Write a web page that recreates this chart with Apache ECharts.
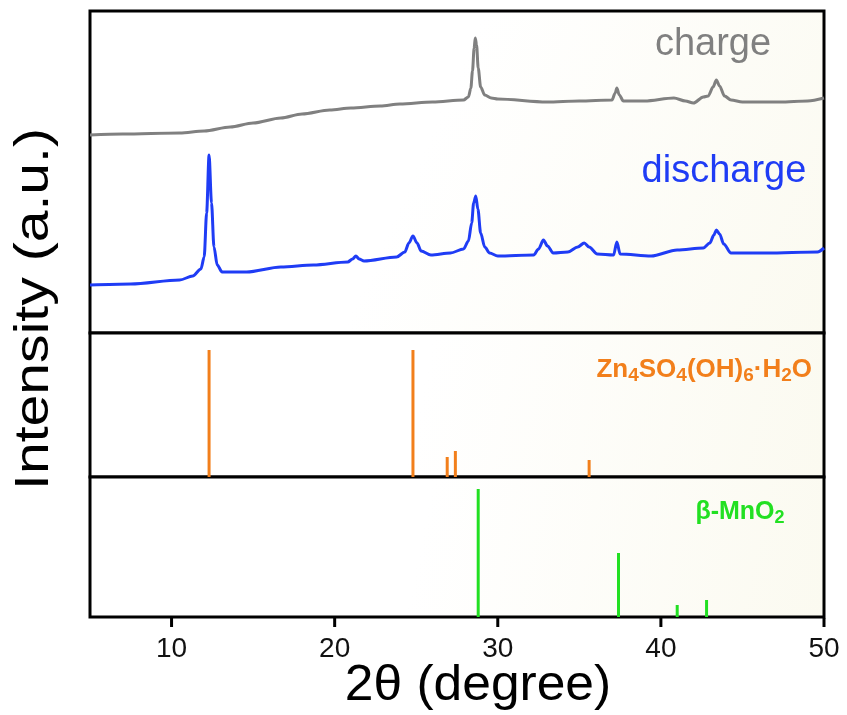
<!DOCTYPE html>
<html>
<head>
<meta charset="utf-8">
<script src="https://cdn.jsdelivr.net/npm/echarts@6/dist/echarts.min.js"></script>
<style>
  html, body { margin: 0; padding: 0; background: #fff; }
  #chart { width: 847px; height: 715px; }
</style>
</head>
<body>
<div id="chart"></div>
<script>
// x tick labels of the shared 2theta axis (axis runs 5..50)
var xMin = 5, xMax = 50;
var xTicks = [10, 20, 30, 40, 50];

// charge pattern [2theta, intensity]
var chargeData = [
  [5, 198], [7, 199], [10.5, 200], [12, 202], [13.6, 206], [15, 210], [16.7, 215],
  [18, 219], [19.7, 223], [21, 225], [22.8, 227], [24, 229], [26, 231], [27.9, 233],
  [28.2, 236], [28.35, 245], [28.45, 262], [28.55, 285], [28.62, 295], [28.7, 288],
  [28.8, 265], [28.95, 246], [29.2, 238], [29.6, 235], [30, 234], [33, 231], [35, 232],
  [37.0, 233], [37.2, 240], [37.3, 245], [37.45, 238], [37.7, 232], [39, 232],
  [40.8, 235], [41.5, 232], [42.0, 230], [42.6, 236], [42.9, 237], [43.2, 246],
  [43.4, 253], [43.6, 247], [43.9, 237], [44.3, 233], [45, 231], [47.3, 231], [49, 232], [50, 235]
];

// discharge pattern [2theta, intensity]
var dischargeData = [
  [5, 48], [7.5, 49], [10.5, 53], [11.3, 57], [11.8, 64], [12.0, 76], [12.15, 120], [12.3, 178],
  [12.45, 130], [12.6, 86], [12.8, 68], [13.1, 61], [14.6, 61], [16.7, 66], [18.7, 68],
  [20.8, 71], [21.1, 74], [21.3, 77], [21.5, 74], [21.8, 72], [23.8, 76], [24.3, 81],
  [24.55, 90], [24.8, 97], [25.05, 90], [25.3, 82], [25.9, 78], [27.1, 80], [27.9, 84],
  [28.2, 92], [28.4, 110], [28.52, 130], [28.65, 137], [28.78, 124], [28.95, 100], [29.2, 86],
  [29.5, 80], [30.0, 77], [32.2, 78], [32.5, 84], [32.8, 93], [33.05, 87], [33.4, 80],
  [34.3, 81], [34.9, 86], [35.3, 90], [35.6, 86], [36.1, 79], [37.1, 78], [37.3, 91],
  [37.5, 79], [39.4, 77], [41.0, 83], [42.6, 85], [43.0, 90], [43.25, 98], [43.4, 103],
  [43.6, 99], [43.85, 89], [44.3, 80], [46.5, 80], [49.6, 81], [50, 85]
];

// reference sticks
var znPos = [12.3, 24.8, 26.9, 27.4, 35.6];
var znInt = [127, 127, 20, 26, 17];
var mnPos = [28.8, 37.4, 41.0, 42.8];
var mnInt = [128, 64, 12, 17];

function pairs(xs, ys) {
  return xs.map(function (x, i) { return [x, ys[i]]; });
}

var chart = echarts.init(document.getElementById('chart'));

var bg = {
  type: 'linear', x: 0, y: 0, x2: 1, y2: 1,
  colorStops: [
    { offset: 0, color: '#ffffff' },
    { offset: 0.45, color: '#ffffff' },
    { offset: 1, color: '#fbfaf0' }
  ]
};

function grid(top, height) {
  return {
    left: 90, right: 23, top: top, height: height,
    show: true, borderColor: '#000', borderWidth: 3,
    backgroundColor: bg
  };
}

function hiddenX(idx) {
  return {
    type: 'value', gridIndex: idx, min: xMin, max: xMax,
    axisLine: { show: false }, axisTick: { show: false },
    axisLabel: { show: false }, splitLine: { show: false }
  };
}

function hiddenY(idx, max) {
  return { type: 'value', gridIndex: idx, min: 0, max: max, show: false, splitLine: { show: false } };
}

var orange = '#f27f1b';
var green = '#22e022';

var bottomAxis = hiddenX(2);
bottomAxis.axisLabel = {
  show: true, margin: 18, fontSize: 28, color: '#111', fontFamily: 'Liberation Sans',
  customValues: xTicks
};

// thin strip under the frame that carries the outward tick marks
var tickGrid = { left: 90, right: 23, top: 618, height: 9, show: false };

var option = {
  backgroundColor: '#fff',
  animation: false,
  grid: [grid(11, 322), grid(333, 144), grid(477, 140), tickGrid],
  xAxis: [hiddenX(0), hiddenX(1), bottomAxis, hiddenX(3)],
  yAxis: [hiddenY(0, 322), hiddenY(1, 144), hiddenY(2, 140), hiddenY(3, 1)],
  graphic: [
    {
      type: 'text', x: 35, y: 309, rotation: Math.PI / 2, scaleX: 1.19,
      style: {
        text: 'Intensity (a.u.)', fontSize: 48, fill: '#000',
        fontFamily: 'Liberation Sans', align: 'center', verticalAlign: 'middle'
      }
    },
    {
      type: 'text', x: 478, y: 686, scaleX: 1.03,
      style: {
        text: '2θ (degree)', fontSize: 50, fill: '#000',
        fontFamily: 'Liberation Sans', align: 'center', verticalAlign: 'middle'
      }
    },
    {
      type: 'text',
      style: { text: 'charge', x: 713, y: 45, align: 'center', verticalAlign: 'middle',
        fontSize: 38, fill: '#808080', fontFamily: 'Liberation Sans' }
    },
    {
      type: 'text',
      style: { text: 'discharge', x: 724, y: 172, align: 'center', verticalAlign: 'middle',
        fontSize: 38, fill: '#1f3cf5', fontFamily: 'Liberation Sans' }
    },
    {
      type: 'text', x: 812, y: 370,
      style: {
        text: '{n|Zn}{s|4}{n|SO}{s|4}{n|(OH)}{s|6}{n|·H}{s|2}{n|O}',
        align: 'right', verticalAlign: 'middle',
        rich: {
          n: { fontSize: 26, fontWeight: 'bold', fill: orange, fontFamily: 'Liberation Sans', lineHeight: 30, verticalAlign: 'middle' },
          s: { fontSize: 19, fontWeight: 'bold', fill: orange, fontFamily: 'Liberation Sans', lineHeight: 30, verticalAlign: 'bottom', padding: [16, 0, 0, 0] }
        }
      }
    },
    {
      type: 'text', x: 740, y: 512,
      style: {
        text: '{n|β-MnO}{s|2}',
        align: 'center', verticalAlign: 'middle',
        rich: {
          n: { fontSize: 25, fontWeight: 'bold', fill: green, fontFamily: 'Liberation Sans', lineHeight: 30, verticalAlign: 'middle' },
          s: { fontSize: 18, fontWeight: 'bold', fill: green, fontFamily: 'Liberation Sans', lineHeight: 30, verticalAlign: 'bottom', padding: [14, 0, 0, 0] }
        }
      }
    }
  ],
  series: [
    {
      name: 'charge', type: 'line', xAxisIndex: 0, yAxisIndex: 0,
      data: chargeData, showSymbol: false, smooth: 0.3, smoothMonotone: 'x',
      lineStyle: { color: '#808080', width: 3 }
    },
    {
      name: 'discharge', type: 'line', xAxisIndex: 0, yAxisIndex: 0,
      data: dischargeData, showSymbol: false, smooth: 0.3, smoothMonotone: 'x',
      lineStyle: { color: '#1f3cf5', width: 3 }
    },
    {
      name: 'Zn4SO4(OH)6·H2O', type: 'bar', xAxisIndex: 1, yAxisIndex: 1,
      data: pairs(znPos, znInt), barWidth: 3,
      itemStyle: { color: orange }
    },
    {
      name: 'β-MnO2', type: 'bar', xAxisIndex: 2, yAxisIndex: 2,
      data: pairs(mnPos, mnInt), barWidth: 3,
      itemStyle: { color: green }
    },
    {
      // outward tick marks: full-height bars in the strip under the frame
      name: 'ticks', type: 'bar', xAxisIndex: 3, yAxisIndex: 3,
      data: xTicks.map(function (v) { return [v, 1]; }), barWidth: 3,
      silent: true, itemStyle: { color: '#000' }
    }
  ]
};

chart.setOption(option);
</script>
</body>
</html>
